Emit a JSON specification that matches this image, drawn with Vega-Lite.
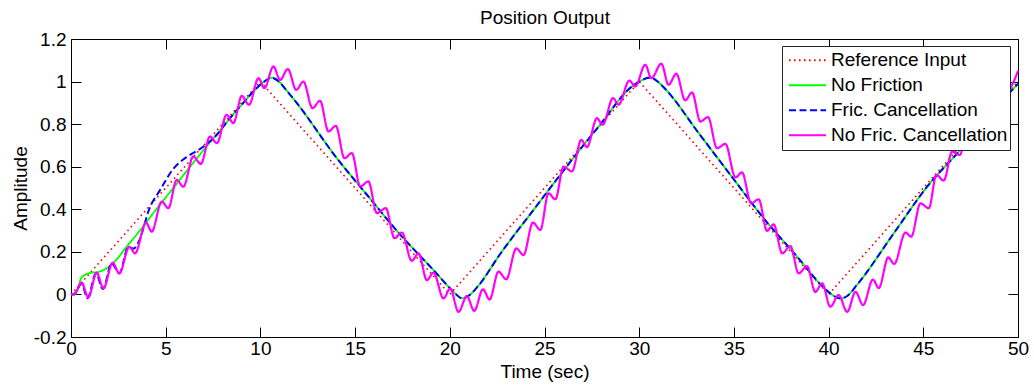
{
  "$schema": "https://vega.github.io/schema/vega-lite/v6.json",
  "width": 947,
  "height": 298,
  "autosize": {"type": "none"},
  "padding": {"left": 71, "top": 39, "right": 16, "bottom": 49},
  "background": "white",
  "config": {
    "font": "Liberation Sans",
    "view": {"stroke": "#000000", "strokeWidth": 1},
    "axis": {"domain": false, "grid": false, "tickColor": "black", "tickSize": -10, "tickWidth": 1, "labelFontSize": 19, "labelColor": "black", "labelFont": "Liberation Sans", "titleFontSize": 19, "titleFontWeight": "normal", "titleColor": "black", "titleFont": "Liberation Sans", "labelOverlap": false},
    "legend": {"labelFontSize": 19, "labelFont": "Liberation Sans", "labelColor": "black", "labelLimit": 400, "symbolType": "stroke", "symbolSize": 1369, "symbolStrokeWidth": 2, "clipHeight": 24.5, "rowPadding": 0, "padding": 2, "strokeColor": "#262626", "fillColor": "white", "symbolOffset": 4, "labelOffset": 4}
  },
  "datasets": {
    "ref": [
      {"t": 0, "v": 0, "s": "Reference Input"}, {"t": 10, "v": 1, "s": "Reference Input"}, {"t": 20, "v": 0, "s": "Reference Input"},
      {"t": 30, "v": 1, "s": "Reference Input"}, {"t": 40, "v": 0, "s": "Reference Input"}, {"t": 50, "v": 1, "s": "Reference Input"}
    ],
    "nf": [
      {"t": 0, "v": 0, "s": "No Friction"}, {"t": 0.35, "v": 0.02, "s": "No Friction"}, {"t": 0.5, "v": 0.07, "s": "No Friction"}, {"t": 0.7, "v": 0.09, "s": "No Friction"},
      {"t": 1.0, "v": 0.1, "s": "No Friction"}, {"t": 1.5, "v": 0.107, "s": "No Friction"}, {"t": 2.06, "v": 0.134, "s": "No Friction"}, {"t": 2.41, "v": 0.165, "s": "No Friction"},
      {"t": 2.9, "v": 0.22, "s": "No Friction"}, {"t": 3.64, "v": 0.3, "s": "No Friction"}, {"t": 4.5, "v": 0.4, "s": "No Friction"}, {"t": 5.4, "v": 0.5, "s": "No Friction"},
      {"t": 6.29, "v": 0.6, "s": "No Friction"}, {"t": 7.2, "v": 0.7, "s": "No Friction"}, {"t": 8.1, "v": 0.795, "s": "No Friction"},
      {"t": 8.66, "v": 0.856, "s": "No Friction"}, {"t": 9.0, "v": 0.89, "s": "No Friction"}, {"t": 9.7, "v": 0.96, "s": "No Friction"}, {"t": 10.2, "v": 1.0, "s": "No Friction"},
      {"t": 10.6, "v": 1.018, "s": "No Friction"}, {"t": 11.0, "v": 0.998, "s": "No Friction"}, {"t": 11.3, "v": 0.967, "s": "No Friction"}, {"t": 12.0, "v": 0.89, "s": "No Friction"},
      {"t": 13.95, "v": 0.65, "s": "No Friction"}, {"t": 15.7, "v": 0.46, "s": "No Friction"}, {"t": 17.4, "v": 0.279, "s": "No Friction"}, {"t": 19.14, "v": 0.114, "s": "No Friction"},
      {"t": 20.0, "v": 0.03, "s": "No Friction"}, {"t": 20.3, "v": 0.003, "s": "No Friction"}, {"t": 20.64, "v": -0.018, "s": "No Friction"}, {"t": 21.0, "v": -0.006, "s": "No Friction"},
      {"t": 21.5, "v": 0.04, "s": "No Friction"}, {"t": 22.66, "v": 0.19, "s": "No Friction"}, {"t": 24.42, "v": 0.397, "s": "No Friction"}, {"t": 26.1, "v": 0.593, "s": "No Friction"},
      {"t": 27.86, "v": 0.789, "s": "No Friction"}, {"t": 29.62, "v": 0.977, "s": "No Friction"}, {"t": 30.1, "v": 1.005, "s": "No Friction"}, {"t": 30.6, "v": 1.019, "s": "No Friction"},
      {"t": 31.0, "v": 0.998, "s": "No Friction"}, {"t": 31.38, "v": 0.965, "s": "No Friction"}, {"t": 33.14, "v": 0.758, "s": "No Friction"}, {"t": 35.0, "v": 0.54, "s": "No Friction"},
      {"t": 36.57, "v": 0.358, "s": "No Friction"}, {"t": 38.34, "v": 0.177, "s": "No Friction"}, {"t": 39.6, "v": 0.045, "s": "No Friction"}, {"t": 40.09, "v": 0.005, "s": "No Friction"},
      {"t": 40.62, "v": -0.019, "s": "No Friction"}, {"t": 41.0, "v": -0.006, "s": "No Friction"}, {"t": 41.5, "v": 0.045, "s": "No Friction"}, {"t": 43.44, "v": 0.287, "s": "No Friction"},
      {"t": 45.2, "v": 0.506, "s": "No Friction"}, {"t": 46.96, "v": 0.679, "s": "No Friction"}, {"t": 49.78, "v": 0.969, "s": "No Friction"}, {"t": 50, "v": 0.99, "s": "No Friction"}
    ],
    "fc": [
      {"t": 0, "v": 0, "s": "Fric. Cancellation"}, {"t": 0.15, "v": 0, "s": "Fric. Cancellation"}, {"t": 0.56, "v": 0.05, "s": "Fric. Cancellation"}, {"t": 0.87, "v": -0.018, "s": "Fric. Cancellation"},
      {"t": 1.32, "v": 0.099, "s": "Fric. Cancellation"}, {"t": 1.68, "v": 0.025, "s": "Fric. Cancellation"}, {"t": 2.15, "v": 0.146, "s": "Fric. Cancellation"}, {"t": 2.55, "v": 0.099, "s": "Fric. Cancellation"},
      {"t": 3.03, "v": 0.224, "s": "Fric. Cancellation"}, {"t": 3.3, "v": 0.215, "s": "Fric. Cancellation"}, {"t": 3.56, "v": 0.245, "s": "Fric. Cancellation"}, {"t": 4.17, "v": 0.41, "s": "Fric. Cancellation"},
      {"t": 4.7, "v": 0.49, "s": "Fric. Cancellation"}, {"t": 5.4, "v": 0.59, "s": "Fric. Cancellation"}, {"t": 5.8, "v": 0.625, "s": "Fric. Cancellation"}, {"t": 6.1, "v": 0.645, "s": "Fric. Cancellation"},
      {"t": 7.0, "v": 0.695, "s": "Fric. Cancellation"}, {"t": 7.7, "v": 0.75, "s": "Fric. Cancellation"}, {"t": 8.1, "v": 0.795, "s": "Fric. Cancellation"},
      {"t": 8.66, "v": 0.856, "s": "Fric. Cancellation"}, {"t": 9.0, "v": 0.89, "s": "Fric. Cancellation"}, {"t": 9.7, "v": 0.96, "s": "Fric. Cancellation"}, {"t": 10.2, "v": 1.0, "s": "Fric. Cancellation"},
      {"t": 10.6, "v": 1.018, "s": "Fric. Cancellation"}, {"t": 11.0, "v": 0.998, "s": "Fric. Cancellation"}, {"t": 11.3, "v": 0.967, "s": "Fric. Cancellation"}, {"t": 12.0, "v": 0.89, "s": "Fric. Cancellation"},
      {"t": 13.95, "v": 0.65, "s": "Fric. Cancellation"}, {"t": 15.7, "v": 0.46, "s": "Fric. Cancellation"}, {"t": 17.4, "v": 0.279, "s": "Fric. Cancellation"}, {"t": 19.14, "v": 0.114, "s": "Fric. Cancellation"},
      {"t": 20.0, "v": 0.03, "s": "Fric. Cancellation"}, {"t": 20.3, "v": 0.003, "s": "Fric. Cancellation"}, {"t": 20.64, "v": -0.018, "s": "Fric. Cancellation"}, {"t": 21.0, "v": -0.006, "s": "Fric. Cancellation"},
      {"t": 21.5, "v": 0.04, "s": "Fric. Cancellation"}, {"t": 22.66, "v": 0.19, "s": "Fric. Cancellation"}, {"t": 24.42, "v": 0.397, "s": "Fric. Cancellation"}, {"t": 26.1, "v": 0.593, "s": "Fric. Cancellation"},
      {"t": 27.86, "v": 0.789, "s": "Fric. Cancellation"}, {"t": 29.62, "v": 0.977, "s": "Fric. Cancellation"}, {"t": 30.1, "v": 1.005, "s": "Fric. Cancellation"}, {"t": 30.6, "v": 1.019, "s": "Fric. Cancellation"},
      {"t": 31.0, "v": 0.998, "s": "Fric. Cancellation"}, {"t": 31.38, "v": 0.965, "s": "Fric. Cancellation"}, {"t": 33.14, "v": 0.758, "s": "Fric. Cancellation"}, {"t": 35.0, "v": 0.54, "s": "Fric. Cancellation"},
      {"t": 36.57, "v": 0.358, "s": "Fric. Cancellation"}, {"t": 38.34, "v": 0.177, "s": "Fric. Cancellation"}, {"t": 39.6, "v": 0.045, "s": "Fric. Cancellation"}, {"t": 40.09, "v": 0.005, "s": "Fric. Cancellation"},
      {"t": 40.62, "v": -0.019, "s": "Fric. Cancellation"}, {"t": 41.0, "v": -0.006, "s": "Fric. Cancellation"}, {"t": 41.5, "v": 0.045, "s": "Fric. Cancellation"}, {"t": 43.44, "v": 0.287, "s": "Fric. Cancellation"},
      {"t": 45.2, "v": 0.506, "s": "Fric. Cancellation"}, {"t": 46.96, "v": 0.679, "s": "Fric. Cancellation"}, {"t": 49.78, "v": 0.969, "s": "Fric. Cancellation"}, {"t": 50, "v": 0.99, "s": "Fric. Cancellation"}
    ],
    "nfc": [
      {"t": 0, "v": 0, "s": "No Fric. Cancellation"}, {"t": 0.15, "v": 0, "s": "No Fric. Cancellation"}, {"t": 0.56, "v": 0.055, "s": "No Fric. Cancellation"}, {"t": 0.91, "v": -0.014, "s": "No Fric. Cancellation"},
      {"t": 1.36, "v": 0.102, "s": "No Fric. Cancellation"}, {"t": 1.71, "v": 0.028, "s": "No Fric. Cancellation"}, {"t": 2.2, "v": 0.149, "s": "No Fric. Cancellation"}, {"t": 2.55, "v": 0.099, "s": "No Fric. Cancellation"},
      {"t": 3.08, "v": 0.224, "s": "No Fric. Cancellation"}, {"t": 3.38, "v": 0.193, "s": "No Fric. Cancellation"}, {"t": 3.96, "v": 0.337, "s": "No Fric. Cancellation"}, {"t": 4.26, "v": 0.295, "s": "No Fric. Cancellation"},
      {"t": 4.79, "v": 0.436, "s": "No Fric. Cancellation"}, {"t": 5.14, "v": 0.405, "s": "No Fric. Cancellation"}, {"t": 5.58, "v": 0.538, "s": "No Fric. Cancellation"}, {"t": 5.93, "v": 0.506, "s": "No Fric. Cancellation"},
      {"t": 6.46, "v": 0.648, "s": "No Fric. Cancellation"}, {"t": 6.85, "v": 0.613, "s": "No Fric. Cancellation"}, {"t": 7.34, "v": 0.742, "s": "No Fric. Cancellation"}, {"t": 7.7, "v": 0.711, "s": "No Fric. Cancellation"},
      {"t": 8.22, "v": 0.844, "s": "No Fric. Cancellation"}, {"t": 8.57, "v": 0.805, "s": "No Fric. Cancellation"}, {"t": 9.02, "v": 0.933, "s": "No Fric. Cancellation"}, {"t": 9.4, "v": 0.891, "s": "No Fric. Cancellation"},
      {"t": 9.9, "v": 1.016, "s": "No Fric. Cancellation"}, {"t": 10.21, "v": 0.969, "s": "No Fric. Cancellation"}, {"t": 10.69, "v": 1.071, "s": "No Fric. Cancellation"}, {"t": 11.04, "v": 1.008, "s": "No Fric. Cancellation"},
      {"t": 11.45, "v": 1.059, "s": "No Fric. Cancellation"}, {"t": 11.89, "v": 0.961, "s": "No Fric. Cancellation"}, {"t": 12.27, "v": 1.0, "s": "No Fric. Cancellation"}, {"t": 12.75, "v": 0.875, "s": "No Fric. Cancellation"},
      {"t": 13.15, "v": 0.91, "s": "No Fric. Cancellation"}, {"t": 13.59, "v": 0.766, "s": "No Fric. Cancellation"}, {"t": 13.98, "v": 0.792, "s": "No Fric. Cancellation"}, {"t": 14.44, "v": 0.64, "s": "No Fric. Cancellation"},
      {"t": 14.83, "v": 0.664, "s": "No Fric. Cancellation"}, {"t": 15.27, "v": 0.507, "s": "No Fric. Cancellation"}, {"t": 15.7, "v": 0.531, "s": "No Fric. Cancellation"}, {"t": 16.15, "v": 0.382, "s": "No Fric. Cancellation"},
      {"t": 16.62, "v": 0.405, "s": "No Fric. Cancellation"}, {"t": 17.08, "v": 0.264, "s": "No Fric. Cancellation"}, {"t": 17.47, "v": 0.291, "s": "No Fric. Cancellation"}, {"t": 17.99, "v": 0.158, "s": "No Fric. Cancellation"},
      {"t": 18.35, "v": 0.193, "s": "No Fric. Cancellation"}, {"t": 18.79, "v": 0.067, "s": "No Fric. Cancellation"}, {"t": 19.14, "v": 0.102, "s": "No Fric. Cancellation"}, {"t": 19.67, "v": -0.019, "s": "No Fric. Cancellation"},
      {"t": 20.02, "v": 0.028, "s": "No Fric. Cancellation"}, {"t": 20.46, "v": -0.082, "s": "No Fric. Cancellation"}, {"t": 20.9, "v": -0.008, "s": "No Fric. Cancellation"}, {"t": 21.29, "v": -0.077, "s": "No Fric. Cancellation"},
      {"t": 21.75, "v": 0.024, "s": "No Fric. Cancellation"}, {"t": 22.1, "v": -0.024, "s": "No Fric. Cancellation"}, {"t": 22.57, "v": 0.107, "s": "No Fric. Cancellation"}, {"t": 22.98, "v": 0.071, "s": "No Fric. Cancellation"},
      {"t": 23.51, "v": 0.216, "s": "No Fric. Cancellation"}, {"t": 23.89, "v": 0.185, "s": "No Fric. Cancellation"}, {"t": 24.39, "v": 0.338, "s": "No Fric. Cancellation"}, {"t": 24.78, "v": 0.303, "s": "No Fric. Cancellation"},
      {"t": 25.21, "v": 0.475, "s": "No Fric. Cancellation"}, {"t": 25.57, "v": 0.447, "s": "No Fric. Cancellation"}, {"t": 26.01, "v": 0.6, "s": "No Fric. Cancellation"}, {"t": 26.45, "v": 0.578, "s": "No Fric. Cancellation"},
      {"t": 26.94, "v": 0.726, "s": "No Fric. Cancellation"}, {"t": 27.24, "v": 0.692, "s": "No Fric. Cancellation"}, {"t": 27.77, "v": 0.828, "s": "No Fric. Cancellation"}, {"t": 28.07, "v": 0.797, "s": "No Fric. Cancellation"},
      {"t": 28.62, "v": 0.922, "s": "No Fric. Cancellation"}, {"t": 28.91, "v": 0.891, "s": "No Fric. Cancellation"}, {"t": 29.48, "v": 1.005, "s": "No Fric. Cancellation"}, {"t": 29.79, "v": 0.977, "s": "No Fric. Cancellation"},
      {"t": 30.32, "v": 1.079, "s": "No Fric. Cancellation"}, {"t": 30.64, "v": 1.016, "s": "No Fric. Cancellation"}, {"t": 31.17, "v": 1.084, "s": "No Fric. Cancellation"}, {"t": 31.55, "v": 0.985, "s": "No Fric. Cancellation"},
      {"t": 31.96, "v": 1.037, "s": "No Fric. Cancellation"}, {"t": 32.43, "v": 0.912, "s": "No Fric. Cancellation"}, {"t": 32.79, "v": 0.949, "s": "No Fric. Cancellation"}, {"t": 33.23, "v": 0.812, "s": "No Fric. Cancellation"},
      {"t": 33.63, "v": 0.833, "s": "No Fric. Cancellation"}, {"t": 34.11, "v": 0.687, "s": "No Fric. Cancellation"}, {"t": 34.55, "v": 0.707, "s": "No Fric. Cancellation"}, {"t": 35.08, "v": 0.55, "s": "No Fric. Cancellation"},
      {"t": 35.43, "v": 0.573, "s": "No Fric. Cancellation"}, {"t": 35.91, "v": 0.428, "s": "No Fric. Cancellation"}, {"t": 36.31, "v": 0.447, "s": "No Fric. Cancellation"}, {"t": 36.75, "v": 0.299, "s": "No Fric. Cancellation"},
      {"t": 37.1, "v": 0.329, "s": "No Fric. Cancellation"}, {"t": 37.55, "v": 0.193, "s": "No Fric. Cancellation"}, {"t": 37.98, "v": 0.227, "s": "No Fric. Cancellation"}, {"t": 38.42, "v": 0.099, "s": "No Fric. Cancellation"},
      {"t": 38.86, "v": 0.133, "s": "No Fric. Cancellation"}, {"t": 39.3, "v": 0.012, "s": "No Fric. Cancellation"}, {"t": 39.66, "v": 0.052, "s": "No Fric. Cancellation"}, {"t": 40.09, "v": -0.058, "s": "No Fric. Cancellation"},
      {"t": 40.53, "v": -0.003, "s": "No Fric. Cancellation"}, {"t": 40.98, "v": -0.082, "s": "No Fric. Cancellation"}, {"t": 41.42, "v": 0.012, "s": "No Fric. Cancellation"}, {"t": 41.82, "v": -0.05, "s": "No Fric. Cancellation"},
      {"t": 42.34, "v": 0.07, "s": "No Fric. Cancellation"}, {"t": 42.65, "v": 0.03, "s": "No Fric. Cancellation"}, {"t": 43.15, "v": 0.174, "s": "No Fric. Cancellation"}, {"t": 43.46, "v": 0.143, "s": "No Fric. Cancellation"},
      {"t": 44.06, "v": 0.291, "s": "No Fric. Cancellation"}, {"t": 44.36, "v": 0.271, "s": "No Fric. Cancellation"}, {"t": 44.85, "v": 0.428, "s": "No Fric. Cancellation"}, {"t": 45.29, "v": 0.405, "s": "No Fric. Cancellation"},
      {"t": 45.69, "v": 0.561, "s": "No Fric. Cancellation"}, {"t": 46.08, "v": 0.535, "s": "No Fric. Cancellation"}, {"t": 46.52, "v": 0.671, "s": "No Fric. Cancellation"}, {"t": 46.92, "v": 0.655, "s": "No Fric. Cancellation"},
      {"t": 47.4, "v": 0.8, "s": "No Fric. Cancellation"}, {"t": 47.75, "v": 0.78, "s": "No Fric. Cancellation"}, {"t": 48.25, "v": 0.9, "s": "No Fric. Cancellation"}, {"t": 48.6, "v": 0.885, "s": "No Fric. Cancellation"},
      {"t": 49.1, "v": 0.98, "s": "No Fric. Cancellation"}, {"t": 49.45, "v": 0.965, "s": "No Fric. Cancellation"}, {"t": 50, "v": 1.05, "s": "No Fric. Cancellation"}
    ]
  },
  "layer": [
    {
      "data": {"name": "ref"},
      "mark": {"type": "line", "strokeWidth": 1.6, "strokeCap": "butt"},
      "encoding": {
        "x": {"field": "t", "type": "quantitative", "scale": {"domain": [0, 50], "nice": false, "zero": false},
              "axis": {"orient": "bottom", "values": [0, 5, 10, 15, 20, 25, 30, 35, 40, 45, 50], "format": "d", "labelPadding": 12, "labelFlush": false, "title": "Time (sec)", "titleBaseline": "alphabetic", "titleY": 40}},
        "y": {"field": "v", "type": "quantitative", "scale": {"domain": [-0.2, 1.2], "nice": false, "zero": false},
              "axis": {"orient": "left", "values": [-0.2, 0, 0.2, 0.4, 0.6, 0.8, 1, 1.2], "labelExpr": "datum.value < 0 ? '-' + format(-datum.value, '~g') : format(datum.value, '~g')", "labelPadding": 15, "labelFlush": false, "title": "Amplitude", "titleAngle": -90, "titleBaseline": "alphabetic", "titleAlign": "center", "titleX": -45, "titleY": 149}},
        "color": {"field": "s", "type": "nominal",
                  "scale": {"domain": ["Reference Input", "No Friction", "Fric. Cancellation", "No Fric. Cancellation"], "range": ["#ff0000", "#00ff00", "#0000ff", "#ff00ff"]},
                  "legend": {"title": null, "orient": "none", "legendX": 711, "legendY": 7}},
        "strokeDash": {"field": "s", "type": "nominal",
                  "scale": {"domain": ["Reference Input", "No Friction", "Fric. Cancellation", "No Fric. Cancellation"], "range": [[1.6, 3.4], [1, 0], [7, 3.5], [1, 0]]},
                  "legend": {"title": null, "orient": "none", "legendX": 711, "legendY": 7}}
      }
    },
    {
      "data": {"name": "nf"},
      "mark": {"type": "line", "strokeWidth": 1.8, "interpolate": "monotone"},
      "encoding": {
        "x": {"field": "t", "type": "quantitative", "axis": {"orient": "top", "values": [0, 5, 10, 15, 20, 25, 30, 35, 40, 45, 50], "labels": false, "title": "Position Output", "titleBaseline": "alphabetic", "titleY": -16, "titleX": 473.5, "titleAlign": "center"}},
        "y": {"field": "v", "type": "quantitative", "axis": {"orient": "right", "values": [-0.2, 0, 0.2, 0.4, 0.6, 0.8, 1, 1.2], "labels": false, "title": null}},
        "color": {"field": "s", "type": "nominal"},
        "strokeDash": {"field": "s", "type": "nominal"}
      }
    },
    {
      "data": {"name": "fc"},
      "mark": {"type": "line", "strokeWidth": 2, "interpolate": "monotone"},
      "encoding": {
        "x": {"field": "t", "type": "quantitative", "axis": null},
        "y": {"field": "v", "type": "quantitative", "axis": null},
        "color": {"field": "s", "type": "nominal"},
        "strokeDash": {"field": "s", "type": "nominal"}
      }
    },
    {
      "data": {"name": "nfc"},
      "mark": {"type": "line", "strokeWidth": 2.2, "interpolate": "monotone"},
      "encoding": {
        "x": {"field": "t", "type": "quantitative", "axis": null},
        "y": {"field": "v", "type": "quantitative", "axis": null},
        "color": {"field": "s", "type": "nominal"},
        "strokeDash": {"field": "s", "type": "nominal"}
      }
    }
  ]
}
